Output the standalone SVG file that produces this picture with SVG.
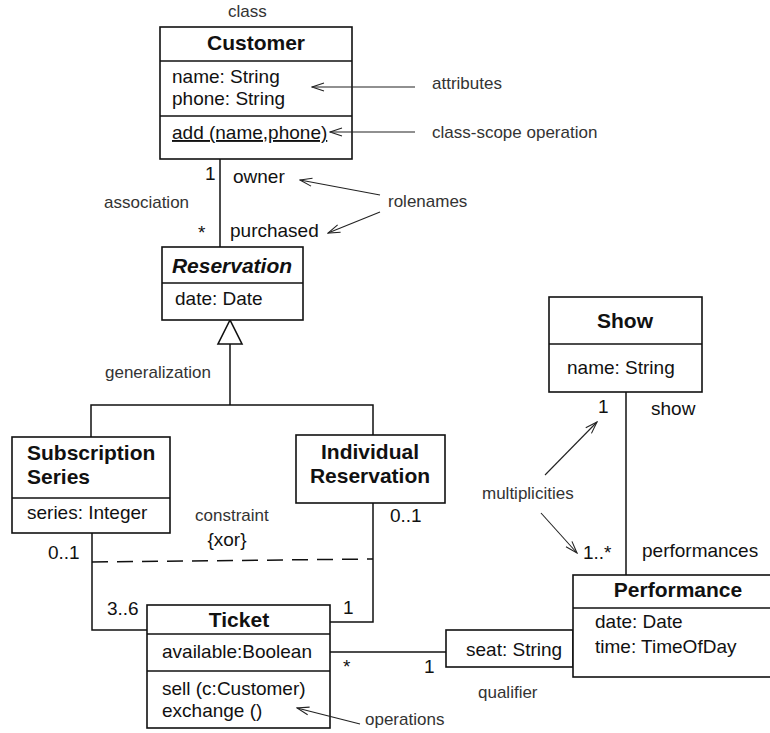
<svg xmlns="http://www.w3.org/2000/svg" width="770" height="733" viewBox="0 0 770 733">
<style>
.box{fill:#fff;stroke:#111;stroke-width:1.6}
.ln{fill:none;stroke:#111;stroke-width:1.5}
.ann{fill:none;stroke:#222;stroke-width:1.1}
.t{font-family:"Liberation Sans",Arial,sans-serif;font-size:19px;fill:#111}
.b{font-family:"Liberation Sans",Arial,sans-serif;font-size:21px;font-weight:bold;fill:#111}
.n{font-family:"Liberation Sans",Arial,sans-serif;font-size:17px;fill:#333}
.m{font-family:"Liberation Sans",Arial,sans-serif;font-size:19px;fill:#111}
</style>
<defs>
<marker id="open" markerWidth="14" markerHeight="10" refX="13" refY="5" orient="auto" markerUnits="userSpaceOnUse">
<path d="M1,1 L13,5 L1,9" fill="none" stroke="#222" stroke-width="1.1"/>
</marker>
</defs>
<rect width="770" height="733" fill="#fff"/>

<g id="connectors">
<line class="ln" x1="220" y1="159" x2="220" y2="247"/>
<polygon class="box" points="230,320 218,344 242,344"/>
<polyline class="ln" points="230,344 230,405"/>
<polyline class="ln" points="91,437 91,405 373,405 373,435"/>
<polyline class="ln" points="92,533 92,630 147,630"/>
<polyline class="ln" points="373,503 373,622 330,622"/>
<line class="ln" x1="92" y1="562" x2="373" y2="559" stroke-dasharray="16,9"/>
<line class="ln" x1="330" y1="652" x2="446" y2="652"/>
<line class="ln" x1="626" y1="392" x2="626" y2="575"/>
</g>

<g id="Customer">
<rect class="box" x="160" y="27" width="192" height="132"/>
<line class="ln" x1="160" y1="61" x2="352" y2="61"/>
<line class="ln" x1="160" y1="116" x2="352" y2="116"/>
<text class="b" x="256" y="50" text-anchor="middle">Customer</text>
<text class="t" x="172" y="83">name: String</text>
<text class="t" x="172" y="105">phone: String</text>
<text class="t" x="172" y="139" text-decoration="underline">add (name,phone)</text>
</g>

<g id="Reservation">
<rect class="box" x="162" y="247" width="141" height="73"/>
<line class="ln" x1="162" y1="283" x2="303" y2="283"/>
<text class="b" x="232" y="273" text-anchor="middle" font-style="italic">Reservation</text>
<text class="t" x="175" y="305">date: Date</text>
</g>

<g id="SubscriptionSeries">
<rect class="box" x="12" y="437" width="158" height="96"/>
<line class="ln" x1="12" y1="498" x2="170" y2="498"/>
<text class="b" x="27" y="460">Subscription</text>
<text class="b" x="27" y="484">Series</text>
<text class="t" x="27" y="519">series: Integer</text>
</g>

<g id="IndividualReservation">
<rect class="box" x="296" y="435" width="149" height="68"/>
<text class="b" x="370" y="459" text-anchor="middle">Individual</text>
<text class="b" x="370" y="483" text-anchor="middle">Reservation</text>
</g>

<g id="Ticket">
<rect class="box" x="147" y="605" width="183" height="123"/>
<line class="ln" x1="147" y1="634" x2="330" y2="634"/>
<line class="ln" x1="147" y1="671" x2="330" y2="671"/>
<text class="b" x="239" y="627" text-anchor="middle">Ticket</text>
<text class="t" x="162" y="658">available:Boolean</text>
<text class="t" x="162" y="695">sell (c:Customer)</text>
<text class="t" x="162" y="717">exchange ()</text>
</g>

<g id="Show">
<rect class="box" x="549" y="297" width="153" height="95"/>
<line class="ln" x1="549" y1="344" x2="702" y2="344"/>
<text class="b" x="625" y="328" text-anchor="middle">Show</text>
<text class="t" x="567" y="374">name: String</text>
</g>

<g id="Performance">
<rect class="box" x="446" y="630" width="127" height="37"/>
<text class="t" x="466" y="656">seat: String</text>
<rect class="box" x="573" y="575" width="205" height="102"/>
<line class="ln" x1="573" y1="608" x2="778" y2="608"/>
<text class="b" x="678" y="597" text-anchor="middle">Performance</text>
<text class="t" x="595" y="628">date: Date</text>
<text class="t" x="595" y="653">time: TimeOfDay</text>
</g>

<g id="annotations">
<line class="ann" x1="415" y1="87" x2="312" y2="87" marker-end="url(#open)"/>
<line class="ann" x1="415" y1="132" x2="330" y2="132" marker-end="url(#open)"/>
<line class="ann" x1="380" y1="195" x2="300" y2="180" marker-end="url(#open)"/>
<line class="ann" x1="380" y1="212" x2="328" y2="233" marker-end="url(#open)"/>
<line class="ann" x1="545" y1="475" x2="597" y2="422" marker-end="url(#open)"/>
<line class="ann" x1="541" y1="513" x2="577" y2="553" marker-end="url(#open)"/>
<line class="ann" x1="360" y1="724" x2="297" y2="708" marker-end="url(#open)"/>
</g>

<g id="labels">
<text class="n" x="228" y="17">class</text>
<text class="n" x="432" y="89">attributes</text>
<text class="n" x="432" y="138">class-scope operation</text>
<text class="n" x="388" y="207">rolenames</text>
<text class="n" x="104" y="208">association</text>
<text class="n" x="105" y="378">generalization</text>
<text class="n" x="195" y="521">constraint</text>
<text class="m" x="227" y="546" text-anchor="middle">{xor}</text>
<text class="n" x="482" y="499">multiplicities</text>
<text class="n" x="478" y="698">qualifier</text>
<text class="n" x="365" y="725">operations</text>
<text class="m" x="205" y="180">1</text>
<text class="m" x="233" y="183">owner</text>
<text class="m" x="198" y="239">*</text>
<text class="m" x="230" y="237">purchased</text>
<text class="m" x="48" y="559">0..1</text>
<text class="m" x="107" y="615">3..6</text>
<text class="m" x="390" y="522">0..1</text>
<text class="m" x="343" y="614">1</text>
<text class="m" x="343" y="673">*</text>
<text class="m" x="424" y="673">1</text>
<text class="m" x="598" y="413">1</text>
<text class="m" x="651" y="415">show</text>
<text class="m" x="583" y="559">1..*</text>
<text class="m" x="642" y="557">performances</text>
</g>
</svg>
